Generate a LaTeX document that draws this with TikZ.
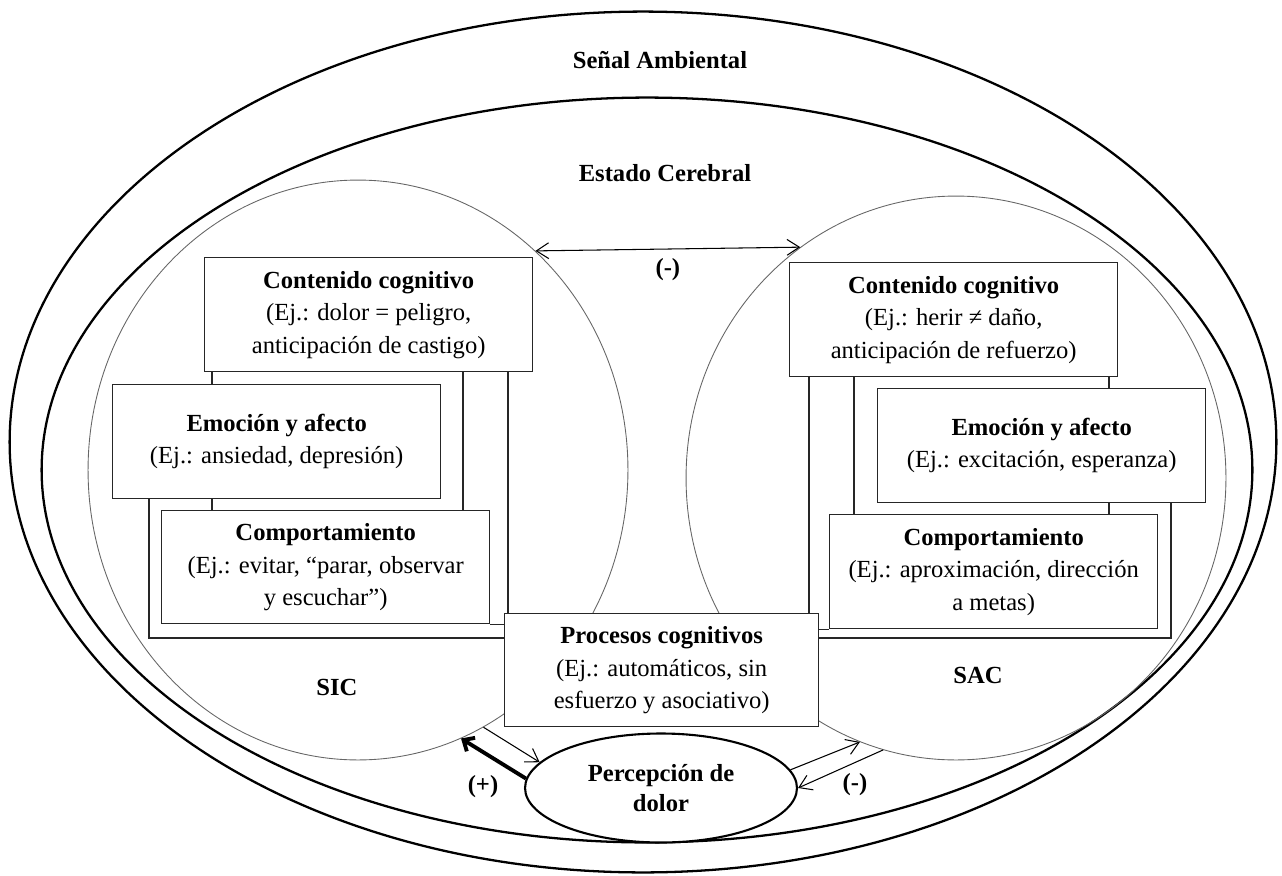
\documentclass[tikz,border=0pt]{standalone}
\usepackage{fontspec}
\setmainfont{Liberation Serif}
\usepackage{tikz}
\usetikzlibrary{shapes.geometric, arrows.meta, positioning}
\tikzset{
  boxnode/.style={
    rectangle, draw=black!85, line width=0.8pt, fill=white,
    anchor=north west, minimum width=6.56cm, minimum height=2.28cm,
    align=center, inner sep=2pt,
    font=\fontsize{14}{18.5}\selectfont,
  },
  region/.style={ellipse, draw=black, line width=1.3pt, inner sep=0pt},
  system/.style={ellipse, draw=black!60, line width=0.5pt, inner sep=0pt,
    minimum width=10.8cm, minimum height=11.6cm},
  title/.style={font=\fontsize{14}{18.5}\selectfont\bfseries, align=center},
  link/.style={draw=black!85, line width=0.8pt},
  arrow/.style={-{Straight Barb[length=7pt,width=9pt]}, line width=0.6pt},
  dblarrow/.style={{Straight Barb[length=7pt,width=9pt]}-{Straight Barb[length=7pt,width=9pt]}, line width=0.6pt},
  boldarrow/.style={-{Straight Barb[length=5pt,width=9pt]}, line width=2.2pt},
  annot/.style={font=\fontsize{14}{18.5}\selectfont\bfseries},
}

\begin{document}
\begin{tikzpicture}[x=0.02cm, y=-0.02cm]
  \useasboundingbox (0,0) rectangle (1282,876);

  % Environment and brain state
  \node[region, minimum width=25.34cm, minimum height=17.22cm] (senal) at (643,442) {};
  \node[region, minimum width=24.22cm, minimum height=14.9cm] (estado) at (647,470) {};
  \node[title] (senalLbl) at (660,60) {Señal Ambiental};
  \node[title] (estadoLbl) at (665,173) {Estado Cerebral};

  % The two systems
  \node[system] (sic) at (358,470) {};
  \node[system, minimum height=11.28cm] (sac) at (956,478) {};
  \node[title] (sicLbl) at (337,687) {SIC};
  \node[title] (sacLbl) at (978,675) {SAC};

  % Left column: SIC
  \node[boxnode] (ccL) at (204,257) {\textbf{Contenido cognitivo}\\(Ej.: dolor = peligro,\\anticipación de castigo)};
  \node[boxnode] (emoL) at (112,384) {\textbf{Emoción y afecto}\\(Ej.: ansiedad, depresión)};
  \node[boxnode, minimum height=2.26cm] (comL) at (161,510) {\textbf{Comportamiento}\\(Ej.: evitar, “parar, observar\\y escuchar”)};

  % Right column: SAC
  \node[boxnode] (ccR) at (789,262) {\textbf{Contenido cognitivo}\\(Ej.: herir ≠ daño,\\anticipación de refuerzo)};
  \node[boxnode] (emoR) at (877,388) {\textbf{Emoción y afecto}\\(Ej.: excitación, esperanza)};
  \node[boxnode] (comR) at (829,514) {\textbf{Comportamiento}\\(Ej.: aproximación, dirección\\a metas)};

  % Shared processes and pain perception
  \node[boxnode, minimum width=6.28cm, minimum height=2.26cm] (proc) at (504,613) {\textbf{Procesos cognitivos}\\(Ej.: automáticos, sin\\esfuerzo y asociativo)};
  \node[region, fill=white, line width=1.2pt, minimum width=5.44cm, minimum height=2.18cm,
        font=\fontsize{14}{17}\selectfont\bfseries, align=center] (dolor) at (661,788) {Percepción de\\dolor};

  % Columns for the joining lines
  \coordinate (colLa) at (212,0);
  \coordinate (colLb) at (463,0);
  \coordinate (colLc) at (508,0);
  \coordinate (brkL) at (149,638);
  \coordinate (colRa) at (1109,0);
  \coordinate (colRb) at (854,0);
  \coordinate (colRc) at (809,0);
  \coordinate (brkR) at (1171,638);

  % Left joins
  \draw[link] (ccL.south -| colLa) -- (emoL.north -| colLa);
  \draw[link] (emoL.south -| colLa) -- (comL.north -| colLa);
  \draw[link] (ccL.south -| colLb) -- (comL.north -| colLb);
  \draw[link] (ccL.south -| colLc) -- (proc.north -| colLc);
  \draw[link] (comL.south east) -- (comL.south east -| proc.west);
  \draw[link] (emoL.south -| brkL) |- (proc.west |- brkL);

  % Right joins
  \draw[link] (ccR.south -| colRa) -- (emoR.north -| colRa);
  \draw[link] (emoR.south -| colRa) -- (comR.north -| colRa);
  \draw[link] (ccR.south -| colRb) -- (comR.north -| colRb);
  \draw[link] (ccR.south -| colRc) -- (proc.north -| colRc);
  \draw[link] (comR.south west) -- (comR.south west -| proc.east);
  \draw[link] (emoR.south -| brkR) |- (proc.east |- brkR);

  % Mutual inhibition
  \draw[dblarrow] (sic.51.4) -- node[annot, below=2pt] (negTop) {(-)} (sac.124.9);

  % Feedback with pain perception
  \draw[boldarrow] (dolor.176) -- (sic.-69.7);
  \draw[arrow] (sic.-64.4) -- (dolor.168);
  \draw[arrow] (dolor.8) -- (sac.-110.9);
  \draw[arrow] (sac.-105) -- (dolor.0);
  \node[annot] (plus) at (483,787) {(+)};
  \node[annot] (negLow) at (855,785) {(-)};

\end{tikzpicture}
\end{document}
